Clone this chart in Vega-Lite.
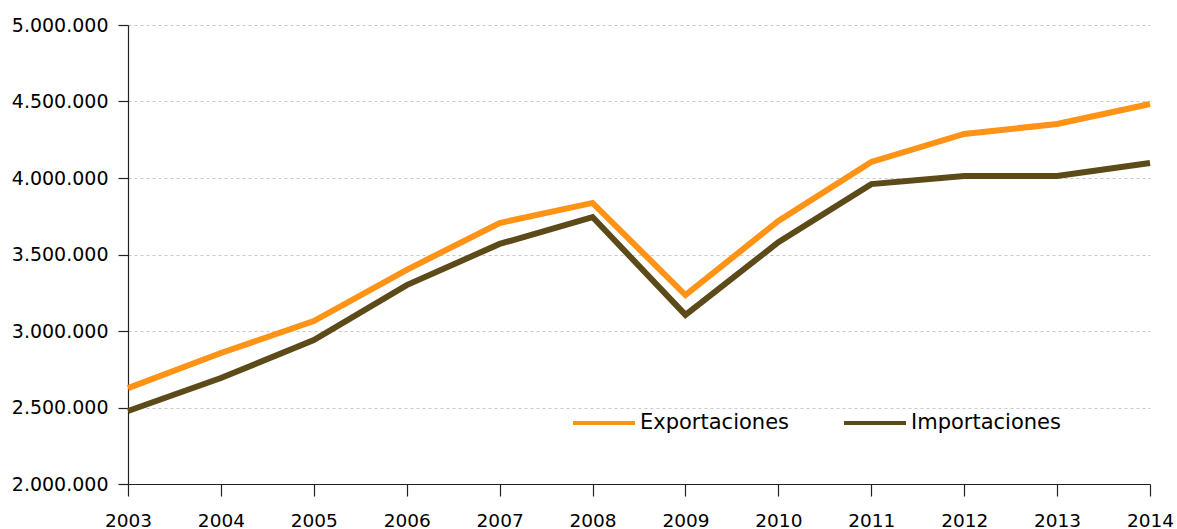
{
  "$schema": "https://vega.github.io/schema/vega-lite/v6.json",
  "width": 1022,
  "height": 459,
  "autosize": {"type": "none"},
  "padding": {"left": 128, "top": 25, "right": 27, "bottom": 45},
  "background": "white",
  "data": {
    "values": [
      {"year": 2003, "serie": "Exportaciones", "value": 2627000},
      {"year": 2004, "serie": "Exportaciones", "value": 2856000},
      {"year": 2005, "serie": "Exportaciones", "value": 3065000},
      {"year": 2006, "serie": "Exportaciones", "value": 3400000},
      {"year": 2007, "serie": "Exportaciones", "value": 3706000},
      {"year": 2008, "serie": "Exportaciones", "value": 3837000},
      {"year": 2009, "serie": "Exportaciones", "value": 3235000},
      {"year": 2010, "serie": "Exportaciones", "value": 3719000},
      {"year": 2011, "serie": "Exportaciones", "value": 4105000},
      {"year": 2012, "serie": "Exportaciones", "value": 4288000},
      {"year": 2013, "serie": "Exportaciones", "value": 4353000},
      {"year": 2014, "serie": "Exportaciones", "value": 4484000},
      {"year": 2003, "serie": "Importaciones", "value": 2477000},
      {"year": 2004, "serie": "Importaciones", "value": 2693000},
      {"year": 2005, "serie": "Importaciones", "value": 2941000},
      {"year": 2006, "serie": "Importaciones", "value": 3300000},
      {"year": 2007, "serie": "Importaciones", "value": 3569000},
      {"year": 2008, "serie": "Importaciones", "value": 3745000},
      {"year": 2009, "serie": "Importaciones", "value": 3105000},
      {"year": 2010, "serie": "Importaciones", "value": 3580000},
      {"year": 2011, "serie": "Importaciones", "value": 3960000},
      {"year": 2012, "serie": "Importaciones", "value": 4013000},
      {"year": 2013, "serie": "Importaciones", "value": 4013000},
      {"year": 2014, "serie": "Importaciones", "value": 4098000}
    ]
  },
  "mark": {"type": "line", "strokeWidth": 6, "strokeCap": "butt", "strokeJoin": "miter"},
  "encoding": {
    "x": {
      "field": "year",
      "type": "quantitative",
      "scale": {"domain": [2003, 2014], "nice": false, "zero": false},
      "axis": {
        "title": null,
        "values": [2003, 2004, 2005, 2006, 2007, 2008, 2009, 2010, 2011, 2012, 2013, 2014],
        "format": "d",
        "grid": false,
        "tickSize": 12,
        "labelPadding": 15,
        "labelFontSize": 18.5,
        "labelFlush": false,
        "labelOverlap": false
      }
    },
    "y": {
      "field": "value",
      "type": "quantitative",
      "scale": {"domain": [2000000, 5000000], "nice": false, "zero": false},
      "axis": {
        "title": null,
        "values": [2000000, 2500000, 3000000, 3500000, 4000000, 4500000, 5000000],
        "format": ",d",
        "grid": true,
        "gridColor": "#c8c8c8",
        "gridDash": [3, 3],
        "gridWidth": 1,
        "tickSize": 10,
        "labelPadding": 10,
        "labelFontSize": 19
      }
    },
    "color": {
      "field": "serie",
      "type": "nominal",
      "scale": {"domain": ["Exportaciones", "Importaciones"], "range": ["#FF9316", "#5C4A18"]},
      "legend": {
        "title": null,
        "orient": "none",
        "legendX": 443,
        "legendY": 365,
        "direction": "horizontal",
        "symbolType": "stroke",
        "symbolSize": 3844,
        "symbolStrokeWidth": 4,
        "labelFontSize": 21,
        "labelOffset": 3,
        "columnPadding": 46,
        "labelColor": "black",
        "labelFont": "DejaVu Sans"
      }
    }
  },
  "config": {
    "locale": {"number": {"decimal": ",", "thousands": ".", "grouping": [3], "currency": ["", " €"]}},
    "view": {"stroke": null},
    "axis": {
      "labelFont": "DejaVu Sans",
      "labelColor": "black",
      "domainColor": "#222222",
      "domainWidth": 1.2,
      "tickColor": "#222222",
      "tickWidth": 1.2
    }
  }
}
